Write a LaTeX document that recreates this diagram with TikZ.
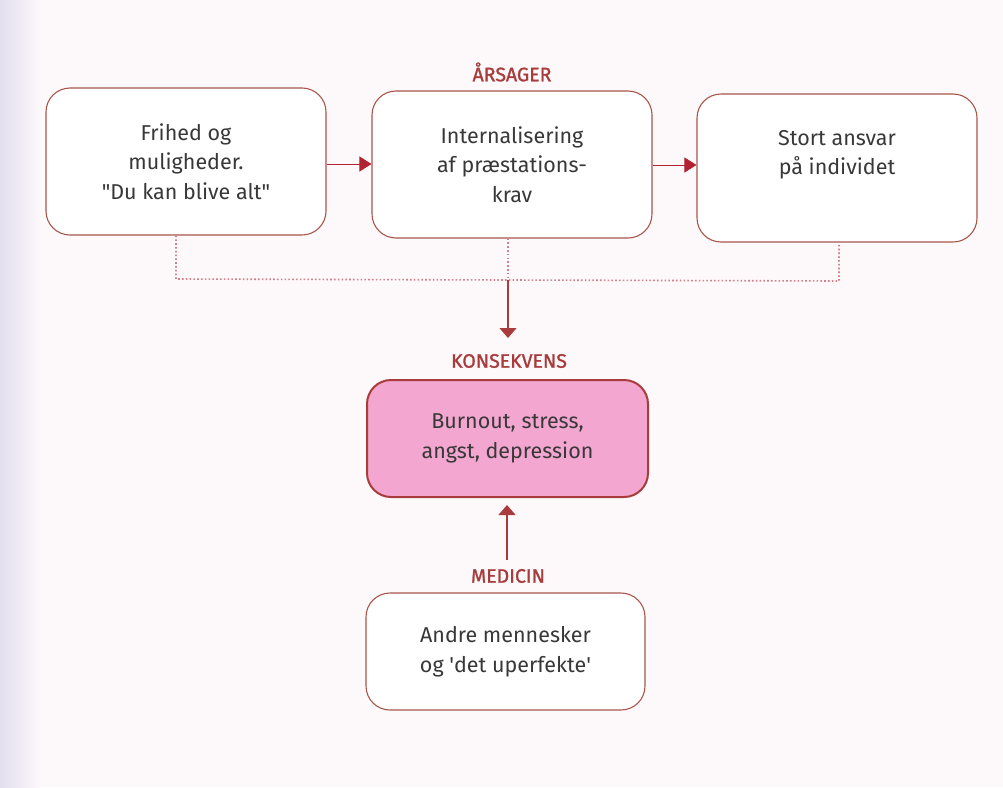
\documentclass[tikz,border=0pt]{standalone}
\usepackage{fontspec}
\setmainfont{Fira Sans}
\newfontfamily\labelfont{Fira Sans}[FakeBold=1.2]
\usetikzlibrary{arrows.meta,positioning}
\definecolor{pagebg}{HTML}{FDF8FA}
\definecolor{edgebg}{HTML}{E2DEEE}
\definecolor{boxline}{HTML}{A8564C}
\definecolor{darkred}{HTML}{A83C3C}
\definecolor{arrowred}{HTML}{B32233}
\definecolor{dotred}{HTML}{D0808F}
\definecolor{pinkfill}{HTML}{F3A6D0}
\definecolor{txt}{HTML}{383838}
\tikzset{
  whitebox/.style={draw=boxline, line width=1.1pt, fill=white, rounded corners=24pt,
    align=center, text=txt, font=\fontsize{21.5}{29.5}\selectfont},
  pinkbox/.style={draw=darkred, line width=2pt, fill=pinkfill, rounded corners=24pt,
    align=center, text=txt, font=\fontsize{21.5}{29.5}\selectfont},
  lbl/.style={text=darkred, font=\fontsize{19.5}{22}\labelfont},
  flow/.style={draw=boxline!80!gray, line width=0.8pt, -{Triangle[length=12pt,width=15pt,fill=arrowred]}, arrowred},
  dotline/.style={draw=dotred, line width=1.6pt, dash pattern=on 1.6pt off 2.2pt},
  solidred/.style={draw=darkred, line width=1.3pt, -{Triangle[length=10pt,width=17pt]}, darkred}
}
\begin{document}
\begin{tikzpicture}[x=1pt,y=-1pt]
\useasboundingbox (0,0) rectangle (1003,787);
\fill[pagebg] (0,0) rectangle (1003,787);
\shade[left color=edgebg, right color=pagebg] (0,0) rectangle (40,787);

% boxes
\node[whitebox, minimum width=280pt, minimum height=147pt] (b1) at (186,161.5) {Frihed og\\muligheder.\\\textquotedbl Du kan blive alt\textquotedbl};
\node[whitebox, minimum width=280pt, minimum height=147pt] (b2) at (512,164.5) {Internalisering\\af præstations-\\krav};
\node[whitebox, minimum width=280pt, minimum height=148pt] (b3) at (837,168) {};
\node[text=txt, font=\fontsize{21.5}{29.5}\selectfont, align=center] (b3t) at (837,155) {Stort ansvar\\på individet};
\node[pinkbox, minimum width=281pt, minimum height=117pt] (p) at (507.5,438.5) {Burnout, stress,\\angst, depression};
\node[whitebox, minimum width=279pt, minimum height=117pt] (m) at (505.5,651.5) {Andre mennesker\\og \textquotesingle det uperfekte\textquotesingle};

% labels
\node[lbl] (l1) at (512,72) {ÅRSAGER};
\node[lbl] (l2) at (509,361) {KONSEKVENS};
\node[lbl] (l3) at (508,576) {MEDICIN};

% flow arrows
\draw[flow] (b1.east |- 0,164) -- (b2.west |- 0,164);
\draw[flow] (b2.east |- 0,165) -- (b3.west |- 0,165);

% dotted collector
\coordinate (j1) at (176,279);
\coordinate (j2) at (508,280);
\coordinate (j3) at (839,281);
\draw[dotline] (b1.south -| j1) -- (j1) -- (j3) -- (b3.south -| j3);
\draw[dotline] (b2.south -| j2) -- (j2);
\coordinate (pt) at (508,338);
\draw[solidred] (j2) -- (pt);

% medicin arrow
\coordinate (ms) at (507,560);
\coordinate (mt) at (507,505);
\draw[solidred] (ms) -- (mt);
\end{tikzpicture}
\end{document}
